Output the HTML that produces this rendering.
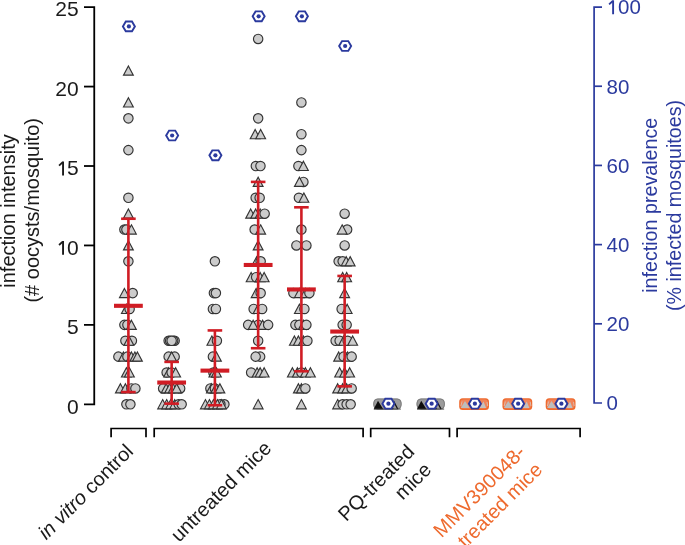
<!DOCTYPE html>
<html><head><meta charset="utf-8"><style>
html,body{margin:0;padding:0;background:#fff;}
body{width:685px;height:545px;overflow:hidden;}
svg{display:block;will-change:transform;}
text{font-family:"Liberation Sans",sans-serif;font-size:20px;fill:#1a1a1a;}
</style></head><body>
<svg width="685" height="545" viewBox="0 0 685 545">
<rect width="685" height="545" fill="#fff"/>
<path d="M84 7.15H94.25V404.30H84" fill="none" stroke="#000" stroke-width="1.8"/>
<line x1="84" y1="324.87" x2="94.25" y2="324.87" stroke="#000" stroke-width="1.8"/>
<line x1="84" y1="245.44" x2="94.25" y2="245.44" stroke="#000" stroke-width="1.8"/>
<line x1="84" y1="166.01" x2="94.25" y2="166.01" stroke="#000" stroke-width="1.8"/>
<line x1="84" y1="86.58" x2="94.25" y2="86.58" stroke="#000" stroke-width="1.8"/>
<path d="M602 7.05H594.1V403.0H602" fill="none" stroke="#2b3a9e" stroke-width="1.7"/>
<line x1="594.1" y1="323.81" x2="602" y2="323.81" stroke="#2b3a9e" stroke-width="1.7"/>
<line x1="594.1" y1="244.62" x2="602" y2="244.62" stroke="#2b3a9e" stroke-width="1.7"/>
<line x1="594.1" y1="165.43" x2="602" y2="165.43" stroke="#2b3a9e" stroke-width="1.7"/>
<line x1="594.1" y1="86.24" x2="602" y2="86.24" stroke="#2b3a9e" stroke-width="1.7"/>
<text x="78.6" y="413.50" text-anchor="end" style="font-size:21px">0</text>
<text x="78.6" y="334.07" text-anchor="end" style="font-size:21px">5</text>
<path d="M62.10 240.89H64.00V254.84H62.10Z" fill="#1a1a1a"/><path d="M62.75 241.59L59.05 244.99" stroke="#1a1a1a" stroke-width="1.8"/>
<text x="78.6" y="254.64" text-anchor="end" style="font-size:21px">0</text>
<path d="M62.10 161.46H64.00V175.41H62.10Z" fill="#1a1a1a"/><path d="M62.75 162.16L59.05 165.56" stroke="#1a1a1a" stroke-width="1.8"/>
<text x="78.6" y="175.21" text-anchor="end" style="font-size:21px">5</text>
<text x="78.6" y="95.78" text-anchor="end" style="font-size:21px">20</text>
<text x="78.6" y="16.35" text-anchor="end" style="font-size:21px">25</text>
<text x="606.6" y="410.40" style="fill:#2b3a9e;font-size:20.5px">0</text>
<text x="606.6" y="331.21" style="fill:#2b3a9e;font-size:20.5px">20</text>
<text x="606.6" y="252.02" style="fill:#2b3a9e;font-size:20.5px">40</text>
<text x="606.6" y="172.83" style="fill:#2b3a9e;font-size:20.5px">60</text>
<text x="606.6" y="93.64" style="fill:#2b3a9e;font-size:20.5px">80</text>
<path d="M612.15 0.30H614.05V14.25H612.15Z" fill="#2b3a9e"/><path d="M612.80 1.00L609.10 4.40" stroke="#2b3a9e" stroke-width="1.8"/>
<text x="618.0" y="14.45" style="fill:#2b3a9e;font-size:20.5px">00</text>
<text transform="translate(15.0 211.0) rotate(-90)" text-anchor="middle">infection intensity</text>
<text transform="translate(38.5 210.3) rotate(-90)" text-anchor="middle">(# oocysts/mosquito)</text>
<text transform="translate(657 205.3) rotate(-90)" text-anchor="middle" style="fill:#2b3a9e;font-size:19.7px">infection prevalence</text>
<text transform="translate(680.9 205.5) rotate(-90)" text-anchor="middle" style="fill:#2b3a9e;font-size:19.7px">(% infected mosquitoes)</text>
<path d="M111.1 437.2V428.5H146.0V437.2" fill="none" stroke="#000" stroke-width="1.7"/>
<path d="M154.2 437.2V428.5H363.1V437.2" fill="none" stroke="#000" stroke-width="1.7"/>
<path d="M370.7 437.2V428.5H449.5V437.2" fill="none" stroke="#000" stroke-width="1.7"/>
<path d="M457.1 437.2V428.5H580.1V437.2" fill="none" stroke="#000" stroke-width="1.7"/>
<text transform="translate(134.4 452.5) rotate(-45)" text-anchor="end"><tspan font-style="italic">in vitro</tspan> control</text>
<text transform="translate(272.5 449.4) rotate(-45)" text-anchor="end">untreated mice</text>
<text transform="translate(415.5 453) rotate(-45)" text-anchor="end">PQ-treated</text>
<text transform="translate(432.5 471) rotate(-45)" text-anchor="end">mice</text>
<text transform="translate(526.5 453.5) rotate(-45)" text-anchor="end" style="fill:#ee6a2e">MMV390048-</text>
<text transform="translate(543.5 471) rotate(-45)" text-anchor="end" style="fill:#ee6a2e">treated mice</text>
<path d="M128.40 65.99L133.30 75.19L123.50 75.19Z" fill="#cccccc" stroke="#333333" stroke-width="1.15"/>
<path d="M128.40 97.77L133.30 106.97L123.50 106.97Z" fill="#cccccc" stroke="#333333" stroke-width="1.15"/>
<circle cx="128.40" cy="118.35" r="4.7" fill="#cccccc" stroke="#333333" stroke-width="1.15"/>
<circle cx="128.40" cy="150.12" r="4.7" fill="#cccccc" stroke="#333333" stroke-width="1.15"/>
<circle cx="128.40" cy="197.78" r="4.7" fill="#cccccc" stroke="#333333" stroke-width="1.15"/>
<path d="M128.40 208.97L133.30 218.17L123.50 218.17Z" fill="#cccccc" stroke="#333333" stroke-width="1.15"/>
<circle cx="124.40" cy="229.55" r="4.7" fill="#cccccc" stroke="#333333" stroke-width="1.15"/>
<circle cx="126.40" cy="229.55" r="4.7" fill="#cccccc" stroke="#333333" stroke-width="1.15"/>
<path d="M131.40 224.85L136.30 234.05L126.50 234.05Z" fill="#cccccc" stroke="#333333" stroke-width="1.15"/>
<path d="M128.40 240.74L133.30 249.94L123.50 249.94Z" fill="#cccccc" stroke="#333333" stroke-width="1.15"/>
<circle cx="128.40" cy="261.33" r="4.7" fill="#cccccc" stroke="#333333" stroke-width="1.15"/>
<path d="M124.40 288.40L129.30 297.60L119.50 297.60Z" fill="#cccccc" stroke="#333333" stroke-width="1.15"/>
<circle cx="132.70" cy="293.10" r="4.7" fill="#cccccc" stroke="#333333" stroke-width="1.15"/>
<path d="M126.40 304.28L131.30 313.48L121.50 313.48Z" fill="#cccccc" stroke="#333333" stroke-width="1.15"/>
<circle cx="129.60" cy="308.98" r="4.7" fill="#cccccc" stroke="#333333" stroke-width="1.15"/>
<circle cx="124.40" cy="324.87" r="4.7" fill="#cccccc" stroke="#333333" stroke-width="1.15"/>
<circle cx="127.40" cy="324.87" r="4.7" fill="#cccccc" stroke="#333333" stroke-width="1.15"/>
<path d="M131.40 320.17L136.30 329.37L126.50 329.37Z" fill="#cccccc" stroke="#333333" stroke-width="1.15"/>
<circle cx="125.40" cy="340.76" r="4.7" fill="#cccccc" stroke="#333333" stroke-width="1.15"/>
<circle cx="131.90" cy="340.76" r="4.7" fill="#cccccc" stroke="#333333" stroke-width="1.15"/>
<path d="M128.90 336.06L133.80 345.26L124.00 345.26Z" fill="#cccccc" stroke="#333333" stroke-width="1.15"/>
<circle cx="118.40" cy="356.64" r="4.7" fill="#cccccc" stroke="#333333" stroke-width="1.15"/>
<path d="M123.40 351.94L128.30 361.14L118.50 361.14Z" fill="#cccccc" stroke="#333333" stroke-width="1.15"/>
<circle cx="127.40" cy="356.64" r="4.7" fill="#cccccc" stroke="#333333" stroke-width="1.15"/>
<path d="M131.40 351.94L136.30 361.14L126.50 361.14Z" fill="#cccccc" stroke="#333333" stroke-width="1.15"/>
<path d="M134.90 351.94L139.80 361.14L130.00 361.14Z" fill="#cccccc" stroke="#333333" stroke-width="1.15"/>
<path d="M137.40 351.94L142.30 361.14L132.50 361.14Z" fill="#cccccc" stroke="#333333" stroke-width="1.15"/>
<path d="M126.40 367.83L131.30 377.03L121.50 377.03Z" fill="#cccccc" stroke="#333333" stroke-width="1.15"/>
<path d="M129.40 367.83L134.30 377.03L124.50 377.03Z" fill="#cccccc" stroke="#333333" stroke-width="1.15"/>
<path d="M120.40 383.71L125.30 392.91L115.50 392.91Z" fill="#cccccc" stroke="#333333" stroke-width="1.15"/>
<path d="M125.40 383.71L130.30 392.91L120.50 392.91Z" fill="#cccccc" stroke="#333333" stroke-width="1.15"/>
<circle cx="131.40" cy="388.41" r="4.7" fill="#cccccc" stroke="#333333" stroke-width="1.15"/>
<circle cx="135.40" cy="388.41" r="4.7" fill="#cccccc" stroke="#333333" stroke-width="1.15"/>
<circle cx="126.40" cy="404.30" r="4.7" fill="#cccccc" stroke="#333333" stroke-width="1.15"/>
<circle cx="130.40" cy="404.30" r="4.7" fill="#cccccc" stroke="#333333" stroke-width="1.15"/>
<circle cx="168.65" cy="340.76" r="4.7" fill="#cccccc" stroke="#333333" stroke-width="1.15"/>
<circle cx="174.65" cy="340.76" r="4.7" fill="#cccccc" stroke="#333333" stroke-width="1.15"/>
<circle cx="170.15" cy="340.76" r="4.7" fill="#cccccc" stroke="#333333" stroke-width="1.15"/>
<circle cx="173.15" cy="340.76" r="4.7" fill="#cccccc" stroke="#333333" stroke-width="1.15"/>
<circle cx="171.65" cy="340.76" r="4.7" fill="#cccccc" stroke="#333333" stroke-width="1.15"/>
<circle cx="168.65" cy="356.64" r="4.7" fill="#cccccc" stroke="#333333" stroke-width="1.15"/>
<circle cx="174.65" cy="356.64" r="4.7" fill="#cccccc" stroke="#333333" stroke-width="1.15"/>
<path d="M171.65 351.94L176.55 361.14L166.75 361.14Z" fill="#cccccc" stroke="#333333" stroke-width="1.15"/>
<circle cx="166.65" cy="372.53" r="4.7" fill="#cccccc" stroke="#333333" stroke-width="1.15"/>
<path d="M168.65 367.83L173.55 377.03L163.75 377.03Z" fill="#cccccc" stroke="#333333" stroke-width="1.15"/>
<circle cx="171.65" cy="372.53" r="4.7" fill="#cccccc" stroke="#333333" stroke-width="1.15"/>
<path d="M175.65 367.83L180.55 377.03L170.75 377.03Z" fill="#cccccc" stroke="#333333" stroke-width="1.15"/>
<circle cx="163.15" cy="388.41" r="4.7" fill="#cccccc" stroke="#333333" stroke-width="1.15"/>
<circle cx="180.15" cy="388.41" r="4.7" fill="#cccccc" stroke="#333333" stroke-width="1.15"/>
<path d="M166.15 383.71L171.05 392.91L161.25 392.91Z" fill="#cccccc" stroke="#333333" stroke-width="1.15"/>
<path d="M169.65 383.71L174.55 392.91L164.75 392.91Z" fill="#cccccc" stroke="#333333" stroke-width="1.15"/>
<path d="M173.15 383.71L178.05 392.91L168.25 392.91Z" fill="#cccccc" stroke="#333333" stroke-width="1.15"/>
<path d="M176.65 383.71L181.55 392.91L171.75 392.91Z" fill="#cccccc" stroke="#333333" stroke-width="1.15"/>
<path d="M162.65 399.60L167.55 408.80L157.75 408.80Z" fill="#cccccc" stroke="#333333" stroke-width="1.15"/>
<path d="M166.65 399.60L171.55 408.80L161.75 408.80Z" fill="#cccccc" stroke="#333333" stroke-width="1.15"/>
<path d="M170.65 399.60L175.55 408.80L165.75 408.80Z" fill="#cccccc" stroke="#333333" stroke-width="1.15"/>
<path d="M174.65 399.60L179.55 408.80L169.75 408.80Z" fill="#cccccc" stroke="#333333" stroke-width="1.15"/>
<circle cx="178.65" cy="404.30" r="4.7" fill="#cccccc" stroke="#333333" stroke-width="1.15"/>
<circle cx="181.65" cy="404.30" r="4.7" fill="#cccccc" stroke="#333333" stroke-width="1.15"/>
<circle cx="214.90" cy="261.33" r="4.7" fill="#cccccc" stroke="#333333" stroke-width="1.15"/>
<circle cx="213.90" cy="293.10" r="4.7" fill="#cccccc" stroke="#333333" stroke-width="1.15"/>
<circle cx="215.90" cy="293.10" r="4.7" fill="#cccccc" stroke="#333333" stroke-width="1.15"/>
<circle cx="212.90" cy="308.98" r="4.7" fill="#cccccc" stroke="#333333" stroke-width="1.15"/>
<circle cx="215.90" cy="308.98" r="4.7" fill="#cccccc" stroke="#333333" stroke-width="1.15"/>
<path d="M211.90 336.06L216.80 345.26L207.00 345.26Z" fill="#cccccc" stroke="#333333" stroke-width="1.15"/>
<circle cx="216.90" cy="340.76" r="4.7" fill="#cccccc" stroke="#333333" stroke-width="1.15"/>
<circle cx="212.90" cy="356.64" r="4.7" fill="#cccccc" stroke="#333333" stroke-width="1.15"/>
<path d="M216.40 351.94L221.30 361.14L211.50 361.14Z" fill="#cccccc" stroke="#333333" stroke-width="1.15"/>
<circle cx="213.40" cy="372.53" r="4.7" fill="#cccccc" stroke="#333333" stroke-width="1.15"/>
<path d="M213.90 367.83L218.80 377.03L209.00 377.03Z" fill="#cccccc" stroke="#333333" stroke-width="1.15"/>
<path d="M216.40 367.83L221.30 377.03L211.50 377.03Z" fill="#cccccc" stroke="#333333" stroke-width="1.15"/>
<circle cx="210.40" cy="388.41" r="4.7" fill="#cccccc" stroke="#333333" stroke-width="1.15"/>
<path d="M211.40 383.71L216.30 392.91L206.50 392.91Z" fill="#cccccc" stroke="#333333" stroke-width="1.15"/>
<circle cx="214.90" cy="388.41" r="4.7" fill="#cccccc" stroke="#333333" stroke-width="1.15"/>
<path d="M215.90 383.71L220.80 392.91L211.00 392.91Z" fill="#cccccc" stroke="#333333" stroke-width="1.15"/>
<path d="M219.90 383.71L224.80 392.91L215.00 392.91Z" fill="#cccccc" stroke="#333333" stroke-width="1.15"/>
<path d="M205.40 399.60L210.30 408.80L200.50 408.80Z" fill="#cccccc" stroke="#333333" stroke-width="1.15"/>
<path d="M209.40 399.60L214.30 408.80L204.50 408.80Z" fill="#cccccc" stroke="#333333" stroke-width="1.15"/>
<circle cx="224.40" cy="404.30" r="4.7" fill="#cccccc" stroke="#333333" stroke-width="1.15"/>
<circle cx="220.40" cy="404.30" r="4.7" fill="#cccccc" stroke="#333333" stroke-width="1.15"/>
<path d="M213.40 399.60L218.30 408.80L208.50 408.80Z" fill="#cccccc" stroke="#333333" stroke-width="1.15"/>
<path d="M217.40 399.60L222.30 408.80L212.50 408.80Z" fill="#cccccc" stroke="#333333" stroke-width="1.15"/>
<path d="M221.40 399.60L226.30 408.80L216.50 408.80Z" fill="#cccccc" stroke="#333333" stroke-width="1.15"/>
<circle cx="258.15" cy="38.92" r="4.7" fill="#cccccc" stroke="#333333" stroke-width="1.15"/>
<circle cx="258.15" cy="118.35" r="4.7" fill="#cccccc" stroke="#333333" stroke-width="1.15"/>
<path d="M255.15 129.54L260.05 138.74L250.25 138.74Z" fill="#cccccc" stroke="#333333" stroke-width="1.15"/>
<path d="M260.65 129.54L265.55 138.74L255.75 138.74Z" fill="#cccccc" stroke="#333333" stroke-width="1.15"/>
<circle cx="255.85" cy="166.01" r="4.7" fill="#cccccc" stroke="#333333" stroke-width="1.15"/>
<circle cx="260.45" cy="166.01" r="4.7" fill="#cccccc" stroke="#333333" stroke-width="1.15"/>
<path d="M258.15 177.20L263.05 186.40L253.25 186.40Z" fill="#cccccc" stroke="#333333" stroke-width="1.15"/>
<circle cx="255.65" cy="197.78" r="4.7" fill="#cccccc" stroke="#333333" stroke-width="1.15"/>
<circle cx="259.65" cy="197.78" r="4.7" fill="#cccccc" stroke="#333333" stroke-width="1.15"/>
<path d="M250.65 208.97L255.55 218.17L245.75 218.17Z" fill="#cccccc" stroke="#333333" stroke-width="1.15"/>
<path d="M255.65 208.97L260.55 218.17L250.75 218.17Z" fill="#cccccc" stroke="#333333" stroke-width="1.15"/>
<path d="M260.15 208.97L265.05 218.17L255.25 218.17Z" fill="#cccccc" stroke="#333333" stroke-width="1.15"/>
<circle cx="264.65" cy="213.67" r="4.7" fill="#cccccc" stroke="#333333" stroke-width="1.15"/>
<circle cx="254.65" cy="229.55" r="4.7" fill="#cccccc" stroke="#333333" stroke-width="1.15"/>
<path d="M260.65 224.85L265.55 234.05L255.75 234.05Z" fill="#cccccc" stroke="#333333" stroke-width="1.15"/>
<path d="M258.15 240.74L263.05 249.94L253.25 249.94Z" fill="#cccccc" stroke="#333333" stroke-width="1.15"/>
<path d="M256.65 256.63L261.55 265.83L251.75 265.83Z" fill="#cccccc" stroke="#333333" stroke-width="1.15"/>
<circle cx="260.65" cy="261.33" r="4.7" fill="#cccccc" stroke="#333333" stroke-width="1.15"/>
<path d="M251.15 272.51L256.05 281.71L246.25 281.71Z" fill="#cccccc" stroke="#333333" stroke-width="1.15"/>
<circle cx="256.15" cy="277.21" r="4.7" fill="#cccccc" stroke="#333333" stroke-width="1.15"/>
<path d="M260.15 272.51L265.05 281.71L255.25 281.71Z" fill="#cccccc" stroke="#333333" stroke-width="1.15"/>
<path d="M264.15 272.51L269.05 281.71L259.25 281.71Z" fill="#cccccc" stroke="#333333" stroke-width="1.15"/>
<path d="M256.15 288.40L261.05 297.60L251.25 297.60Z" fill="#cccccc" stroke="#333333" stroke-width="1.15"/>
<circle cx="260.65" cy="293.10" r="4.7" fill="#cccccc" stroke="#333333" stroke-width="1.15"/>
<circle cx="253.65" cy="308.98" r="4.7" fill="#cccccc" stroke="#333333" stroke-width="1.15"/>
<path d="M258.15 304.28L263.05 313.48L253.25 313.48Z" fill="#cccccc" stroke="#333333" stroke-width="1.15"/>
<circle cx="262.15" cy="308.98" r="4.7" fill="#cccccc" stroke="#333333" stroke-width="1.15"/>
<circle cx="248.15" cy="324.87" r="4.7" fill="#cccccc" stroke="#333333" stroke-width="1.15"/>
<circle cx="258.15" cy="324.87" r="4.7" fill="#cccccc" stroke="#333333" stroke-width="1.15"/>
<path d="M253.15 320.17L258.05 329.37L248.25 329.37Z" fill="#cccccc" stroke="#333333" stroke-width="1.15"/>
<path d="M262.65 320.17L267.55 329.37L257.75 329.37Z" fill="#cccccc" stroke="#333333" stroke-width="1.15"/>
<circle cx="268.15" cy="324.87" r="4.7" fill="#cccccc" stroke="#333333" stroke-width="1.15"/>
<circle cx="258.15" cy="340.76" r="4.7" fill="#cccccc" stroke="#333333" stroke-width="1.15"/>
<circle cx="260.15" cy="356.64" r="4.7" fill="#cccccc" stroke="#333333" stroke-width="1.15"/>
<circle cx="255.65" cy="356.64" r="4.7" fill="#cccccc" stroke="#333333" stroke-width="1.15"/>
<circle cx="251.15" cy="372.53" r="4.7" fill="#cccccc" stroke="#333333" stroke-width="1.15"/>
<path d="M257.15 367.83L262.05 377.03L252.25 377.03Z" fill="#cccccc" stroke="#333333" stroke-width="1.15"/>
<path d="M260.15 367.83L265.05 377.03L255.25 377.03Z" fill="#cccccc" stroke="#333333" stroke-width="1.15"/>
<path d="M264.15 367.83L269.05 377.03L259.25 377.03Z" fill="#cccccc" stroke="#333333" stroke-width="1.15"/>
<path d="M258.15 399.60L263.05 408.80L253.25 408.80Z" fill="#cccccc" stroke="#333333" stroke-width="1.15"/>
<circle cx="301.40" cy="102.47" r="4.7" fill="#cccccc" stroke="#333333" stroke-width="1.15"/>
<circle cx="301.40" cy="134.24" r="4.7" fill="#cccccc" stroke="#333333" stroke-width="1.15"/>
<circle cx="301.40" cy="150.12" r="4.7" fill="#cccccc" stroke="#333333" stroke-width="1.15"/>
<circle cx="298.40" cy="166.01" r="4.7" fill="#cccccc" stroke="#333333" stroke-width="1.15"/>
<path d="M303.40 161.31L308.30 170.51L298.50 170.51Z" fill="#cccccc" stroke="#333333" stroke-width="1.15"/>
<circle cx="303.40" cy="181.90" r="4.7" fill="#cccccc" stroke="#333333" stroke-width="1.15"/>
<path d="M299.40 177.20L304.30 186.40L294.50 186.40Z" fill="#cccccc" stroke="#333333" stroke-width="1.15"/>
<circle cx="298.90" cy="197.78" r="4.7" fill="#cccccc" stroke="#333333" stroke-width="1.15"/>
<path d="M303.90 193.08L308.80 202.28L299.00 202.28Z" fill="#cccccc" stroke="#333333" stroke-width="1.15"/>
<circle cx="301.40" cy="229.55" r="4.7" fill="#cccccc" stroke="#333333" stroke-width="1.15"/>
<circle cx="296.40" cy="245.44" r="4.7" fill="#cccccc" stroke="#333333" stroke-width="1.15"/>
<circle cx="306.40" cy="245.44" r="4.7" fill="#cccccc" stroke="#333333" stroke-width="1.15"/>
<circle cx="293.40" cy="293.10" r="4.7" fill="#cccccc" stroke="#333333" stroke-width="1.15"/>
<path d="M299.40 288.40L304.30 297.60L294.50 297.60Z" fill="#cccccc" stroke="#333333" stroke-width="1.15"/>
<path d="M305.40 288.40L310.30 297.60L300.50 297.60Z" fill="#cccccc" stroke="#333333" stroke-width="1.15"/>
<circle cx="309.40" cy="293.10" r="4.7" fill="#cccccc" stroke="#333333" stroke-width="1.15"/>
<path d="M299.40 304.28L304.30 313.48L294.50 313.48Z" fill="#cccccc" stroke="#333333" stroke-width="1.15"/>
<circle cx="304.40" cy="308.98" r="4.7" fill="#cccccc" stroke="#333333" stroke-width="1.15"/>
<circle cx="295.40" cy="324.87" r="4.7" fill="#cccccc" stroke="#333333" stroke-width="1.15"/>
<circle cx="299.40" cy="324.87" r="4.7" fill="#cccccc" stroke="#333333" stroke-width="1.15"/>
<path d="M303.40 320.17L308.30 329.37L298.50 329.37Z" fill="#cccccc" stroke="#333333" stroke-width="1.15"/>
<circle cx="306.40" cy="324.87" r="4.7" fill="#cccccc" stroke="#333333" stroke-width="1.15"/>
<path d="M294.40 336.06L299.30 345.26L289.50 345.26Z" fill="#cccccc" stroke="#333333" stroke-width="1.15"/>
<path d="M298.40 336.06L303.30 345.26L293.50 345.26Z" fill="#cccccc" stroke="#333333" stroke-width="1.15"/>
<path d="M303.40 336.06L308.30 345.26L298.50 345.26Z" fill="#cccccc" stroke="#333333" stroke-width="1.15"/>
<circle cx="307.40" cy="340.76" r="4.7" fill="#cccccc" stroke="#333333" stroke-width="1.15"/>
<path d="M292.40 367.83L297.30 377.03L287.50 377.03Z" fill="#cccccc" stroke="#333333" stroke-width="1.15"/>
<path d="M297.40 367.83L302.30 377.03L292.50 377.03Z" fill="#cccccc" stroke="#333333" stroke-width="1.15"/>
<circle cx="301.40" cy="372.53" r="4.7" fill="#cccccc" stroke="#333333" stroke-width="1.15"/>
<path d="M305.40 367.83L310.30 377.03L300.50 377.03Z" fill="#cccccc" stroke="#333333" stroke-width="1.15"/>
<path d="M310.40 367.83L315.30 377.03L305.50 377.03Z" fill="#cccccc" stroke="#333333" stroke-width="1.15"/>
<path d="M298.40 383.71L303.30 392.91L293.50 392.91Z" fill="#cccccc" stroke="#333333" stroke-width="1.15"/>
<path d="M301.40 383.71L306.30 392.91L296.50 392.91Z" fill="#cccccc" stroke="#333333" stroke-width="1.15"/>
<circle cx="305.40" cy="388.41" r="4.7" fill="#cccccc" stroke="#333333" stroke-width="1.15"/>
<path d="M301.40 399.60L306.30 408.80L296.50 408.80Z" fill="#cccccc" stroke="#333333" stroke-width="1.15"/>
<circle cx="344.65" cy="213.67" r="4.7" fill="#cccccc" stroke="#333333" stroke-width="1.15"/>
<circle cx="347.15" cy="229.55" r="4.7" fill="#cccccc" stroke="#333333" stroke-width="1.15"/>
<path d="M342.15 224.85L347.05 234.05L337.25 234.05Z" fill="#cccccc" stroke="#333333" stroke-width="1.15"/>
<circle cx="344.65" cy="245.44" r="4.7" fill="#cccccc" stroke="#333333" stroke-width="1.15"/>
<circle cx="338.65" cy="261.33" r="4.7" fill="#cccccc" stroke="#333333" stroke-width="1.15"/>
<circle cx="342.65" cy="261.33" r="4.7" fill="#cccccc" stroke="#333333" stroke-width="1.15"/>
<path d="M346.15 256.63L351.05 265.83L341.25 265.83Z" fill="#cccccc" stroke="#333333" stroke-width="1.15"/>
<path d="M350.15 256.63L355.05 265.83L345.25 265.83Z" fill="#cccccc" stroke="#333333" stroke-width="1.15"/>
<path d="M342.65 272.51L347.55 281.71L337.75 281.71Z" fill="#cccccc" stroke="#333333" stroke-width="1.15"/>
<path d="M346.65 272.51L351.55 281.71L341.75 281.71Z" fill="#cccccc" stroke="#333333" stroke-width="1.15"/>
<path d="M344.65 288.40L349.55 297.60L339.75 297.60Z" fill="#cccccc" stroke="#333333" stroke-width="1.15"/>
<circle cx="341.65" cy="308.98" r="4.7" fill="#cccccc" stroke="#333333" stroke-width="1.15"/>
<path d="M347.15 304.28L352.05 313.48L342.25 313.48Z" fill="#cccccc" stroke="#333333" stroke-width="1.15"/>
<circle cx="342.65" cy="324.87" r="4.7" fill="#cccccc" stroke="#333333" stroke-width="1.15"/>
<circle cx="346.65" cy="324.87" r="4.7" fill="#cccccc" stroke="#333333" stroke-width="1.15"/>
<circle cx="335.65" cy="340.76" r="4.7" fill="#cccccc" stroke="#333333" stroke-width="1.15"/>
<circle cx="339.65" cy="340.76" r="4.7" fill="#cccccc" stroke="#333333" stroke-width="1.15"/>
<path d="M343.65 336.06L348.55 345.26L338.75 345.26Z" fill="#cccccc" stroke="#333333" stroke-width="1.15"/>
<circle cx="347.65" cy="340.76" r="4.7" fill="#cccccc" stroke="#333333" stroke-width="1.15"/>
<path d="M352.65 336.06L357.55 345.26L347.75 345.26Z" fill="#cccccc" stroke="#333333" stroke-width="1.15"/>
<path d="M338.65 351.94L343.55 361.14L333.75 361.14Z" fill="#cccccc" stroke="#333333" stroke-width="1.15"/>
<circle cx="343.65" cy="356.64" r="4.7" fill="#cccccc" stroke="#333333" stroke-width="1.15"/>
<path d="M347.65 351.94L352.55 361.14L342.75 361.14Z" fill="#cccccc" stroke="#333333" stroke-width="1.15"/>
<circle cx="351.65" cy="356.64" r="4.7" fill="#cccccc" stroke="#333333" stroke-width="1.15"/>
<path d="M339.65 367.83L344.55 377.03L334.75 377.03Z" fill="#cccccc" stroke="#333333" stroke-width="1.15"/>
<path d="M344.65 367.83L349.55 377.03L339.75 377.03Z" fill="#cccccc" stroke="#333333" stroke-width="1.15"/>
<path d="M349.65 367.83L354.55 377.03L344.75 377.03Z" fill="#cccccc" stroke="#333333" stroke-width="1.15"/>
<path d="M337.65 383.71L342.55 392.91L332.75 392.91Z" fill="#cccccc" stroke="#333333" stroke-width="1.15"/>
<path d="M342.65 383.71L347.55 392.91L337.75 392.91Z" fill="#cccccc" stroke="#333333" stroke-width="1.15"/>
<path d="M346.65 383.71L351.55 392.91L341.75 392.91Z" fill="#cccccc" stroke="#333333" stroke-width="1.15"/>
<circle cx="351.65" cy="388.41" r="4.7" fill="#cccccc" stroke="#333333" stroke-width="1.15"/>
<path d="M337.65 399.60L342.55 408.80L332.75 408.80Z" fill="#cccccc" stroke="#333333" stroke-width="1.15"/>
<circle cx="342.65" cy="404.30" r="4.7" fill="#cccccc" stroke="#333333" stroke-width="1.15"/>
<circle cx="346.65" cy="404.30" r="4.7" fill="#cccccc" stroke="#333333" stroke-width="1.15"/>
<circle cx="350.65" cy="404.30" r="4.7" fill="#cccccc" stroke="#333333" stroke-width="1.15"/>
<rect x="373.30" y="398.5" width="28.3" height="11" rx="4.5" fill="#9c9c9c"/>
<rect x="373.80" y="399.0" width="27.3" height="10" rx="4" fill="none" stroke="#7a7a7a" stroke-width="0.9"/>
<path d="M378.00 400.7L383.30 409.2L373.70 409.2Z" fill="#0d0d0d"/>
<path d="M393.50 401L397.70 409M390.90 405.5L393.10 409.2" fill="none" stroke="#111" stroke-width="1.3"/>
<line x1="373.90" y1="409.1" x2="400.90" y2="409.1" stroke="#444" stroke-width="0.9"/>
<rect x="416.55" y="398.5" width="28.3" height="11" rx="4.5" fill="#9c9c9c"/>
<rect x="417.05" y="399.0" width="27.3" height="10" rx="4" fill="none" stroke="#7a7a7a" stroke-width="0.9"/>
<path d="M421.25 400.7L426.55 409.2L416.95 409.2Z" fill="#0d0d0d"/>
<path d="M436.75 401L440.95 409M434.15 405.5L436.35 409.2" fill="none" stroke="#111" stroke-width="1.3"/>
<line x1="417.15" y1="409.1" x2="444.15" y2="409.1" stroke="#444" stroke-width="0.9"/>
<rect x="459.20" y="398.3" width="29.8" height="11.6" rx="3.5" fill="#ee6a2e"/>
<rect x="460.40" y="399.6" width="27.4" height="9" rx="3" fill="#f1845a"/>
<path d="M465.00 401.0L469.50 408.0L460.70 408.0Z" fill="#bdbdbd"/>
<path d="M483.50 401.5L486.10 408.0L479.70 408.0Z" fill="#c2c2c2"/>
<path d="M460.90 406L462.10 401.5M487.00 402L487.70 406" fill="none" stroke="#d8c0b4" stroke-width="0.9"/>
<rect x="502.45" y="398.3" width="29.8" height="11.6" rx="3.5" fill="#ee6a2e"/>
<rect x="503.65" y="399.6" width="27.4" height="9" rx="3" fill="#f1845a"/>
<path d="M508.25 401.0L512.75 408.0L503.95 408.0Z" fill="#bdbdbd"/>
<path d="M526.75 401.5L529.35 408.0L522.95 408.0Z" fill="#c2c2c2"/>
<path d="M504.15 406L505.35 401.5M530.25 402L530.95 406" fill="none" stroke="#d8c0b4" stroke-width="0.9"/>
<rect x="545.70" y="398.3" width="29.8" height="11.6" rx="3.5" fill="#ee6a2e"/>
<rect x="546.90" y="399.6" width="27.4" height="9" rx="3" fill="#f1845a"/>
<path d="M551.50 401.0L556.00 408.0L547.20 408.0Z" fill="#bdbdbd"/>
<path d="M570.00 401.5L572.60 408.0L566.20 408.0Z" fill="#c2c2c2"/>
<path d="M547.40 406L548.60 401.5M573.50 402L574.20 406" fill="none" stroke="#d8c0b4" stroke-width="0.9"/>
<line x1="128.40" y1="218.75" x2="128.40" y2="392.07" stroke="#d01c24" stroke-width="2.6"/>
<line x1="121.10" y1="218.75" x2="135.70" y2="218.75" stroke="#d01c24" stroke-width="2.6"/>
<line x1="121.10" y1="392.07" x2="135.70" y2="392.07" stroke="#d01c24" stroke-width="2.6"/>
<line x1="114.00" y1="305.81" x2="142.80" y2="305.81" stroke="#d01c24" stroke-width="4.1"/>
<line x1="171.65" y1="361.88" x2="171.65" y2="403.66" stroke="#d01c24" stroke-width="2.6"/>
<line x1="164.35" y1="361.88" x2="178.95" y2="361.88" stroke="#d01c24" stroke-width="2.6"/>
<line x1="164.35" y1="403.66" x2="178.95" y2="403.66" stroke="#d01c24" stroke-width="2.6"/>
<line x1="157.25" y1="382.54" x2="186.05" y2="382.54" stroke="#d01c24" stroke-width="4.1"/>
<line x1="214.90" y1="330.43" x2="214.90" y2="405.25" stroke="#d01c24" stroke-width="2.6"/>
<line x1="207.60" y1="330.43" x2="222.20" y2="330.43" stroke="#d01c24" stroke-width="2.6"/>
<line x1="207.60" y1="405.25" x2="222.20" y2="405.25" stroke="#d01c24" stroke-width="2.6"/>
<line x1="200.50" y1="370.62" x2="229.30" y2="370.62" stroke="#d01c24" stroke-width="4.1"/>
<line x1="258.15" y1="181.90" x2="258.15" y2="348.22" stroke="#d01c24" stroke-width="2.6"/>
<line x1="250.85" y1="181.90" x2="265.45" y2="181.90" stroke="#d01c24" stroke-width="2.6"/>
<line x1="250.85" y1="348.22" x2="265.45" y2="348.22" stroke="#d01c24" stroke-width="2.6"/>
<line x1="243.75" y1="264.98" x2="272.55" y2="264.98" stroke="#d01c24" stroke-width="4.1"/>
<line x1="301.40" y1="207.31" x2="301.40" y2="371.26" stroke="#d01c24" stroke-width="2.6"/>
<line x1="294.10" y1="207.31" x2="308.70" y2="207.31" stroke="#d01c24" stroke-width="2.6"/>
<line x1="294.10" y1="371.26" x2="308.70" y2="371.26" stroke="#d01c24" stroke-width="2.6"/>
<line x1="287.00" y1="289.44" x2="315.80" y2="289.44" stroke="#d01c24" stroke-width="4.1"/>
<line x1="344.65" y1="275.94" x2="344.65" y2="386.35" stroke="#d01c24" stroke-width="2.6"/>
<line x1="337.35" y1="275.94" x2="351.95" y2="275.94" stroke="#d01c24" stroke-width="2.6"/>
<line x1="337.35" y1="386.35" x2="351.95" y2="386.35" stroke="#d01c24" stroke-width="2.6"/>
<line x1="330.25" y1="331.54" x2="359.05" y2="331.54" stroke="#d01c24" stroke-width="4.1"/>
<path d="M122.90 26.40L125.80 21.50L132.00 21.50L134.90 26.40L132.00 31.30L125.80 31.30Z" fill="#fff" stroke="#2b3a9e" stroke-width="1.9"/><circle cx="128.90" cy="26.40" r="2.1" fill="#2b3a9e"/>
<path d="M166.15 135.50L169.05 130.60L175.25 130.60L178.15 135.50L175.25 140.40L169.05 140.40Z" fill="#fff" stroke="#2b3a9e" stroke-width="1.9"/><circle cx="172.15" cy="135.50" r="2.1" fill="#2b3a9e"/>
<path d="M209.40 155.30L212.30 150.40L218.50 150.40L221.40 155.30L218.50 160.20L212.30 160.20Z" fill="#fff" stroke="#2b3a9e" stroke-width="1.9"/><circle cx="215.40" cy="155.30" r="2.1" fill="#2b3a9e"/>
<path d="M252.65 16.30L255.55 11.40L261.75 11.40L264.65 16.30L261.75 21.20L255.55 21.20Z" fill="#fff" stroke="#2b3a9e" stroke-width="1.9"/><circle cx="258.65" cy="16.30" r="2.1" fill="#2b3a9e"/>
<path d="M295.90 16.30L298.80 11.40L305.00 11.40L307.90 16.30L305.00 21.20L298.80 21.20Z" fill="#fff" stroke="#2b3a9e" stroke-width="1.9"/><circle cx="301.90" cy="16.30" r="2.1" fill="#2b3a9e"/>
<path d="M339.15 46.00L342.05 41.10L348.25 41.10L351.15 46.00L348.25 50.90L342.05 50.90Z" fill="#fff" stroke="#2b3a9e" stroke-width="1.9"/><circle cx="345.15" cy="46.00" r="2.1" fill="#2b3a9e"/>
<path d="M382.40 403.70L385.30 398.80L391.50 398.80L394.40 403.70L391.50 408.60L385.30 408.60Z" fill="#fff" stroke="#2b3a9e" stroke-width="1.9"/><circle cx="388.40" cy="403.70" r="2.1" fill="#2b3a9e"/>
<path d="M425.65 403.70L428.55 398.80L434.75 398.80L437.65 403.70L434.75 408.60L428.55 408.60Z" fill="#fff" stroke="#2b3a9e" stroke-width="1.9"/><circle cx="431.65" cy="403.70" r="2.1" fill="#2b3a9e"/>
<path d="M468.90 403.70L471.80 398.80L478.00 398.80L480.90 403.70L478.00 408.60L471.80 408.60Z" fill="#fff" stroke="#2b3a9e" stroke-width="1.9"/><circle cx="474.90" cy="403.70" r="2.1" fill="#2b3a9e"/>
<path d="M512.15 403.70L515.05 398.80L521.25 398.80L524.15 403.70L521.25 408.60L515.05 408.60Z" fill="#fff" stroke="#2b3a9e" stroke-width="1.9"/><circle cx="518.15" cy="403.70" r="2.1" fill="#2b3a9e"/>
<path d="M555.40 403.70L558.30 398.80L564.50 398.80L567.40 403.70L564.50 408.60L558.30 408.60Z" fill="#fff" stroke="#2b3a9e" stroke-width="1.9"/><circle cx="561.40" cy="403.70" r="2.1" fill="#2b3a9e"/>
</svg>
</body></html>
